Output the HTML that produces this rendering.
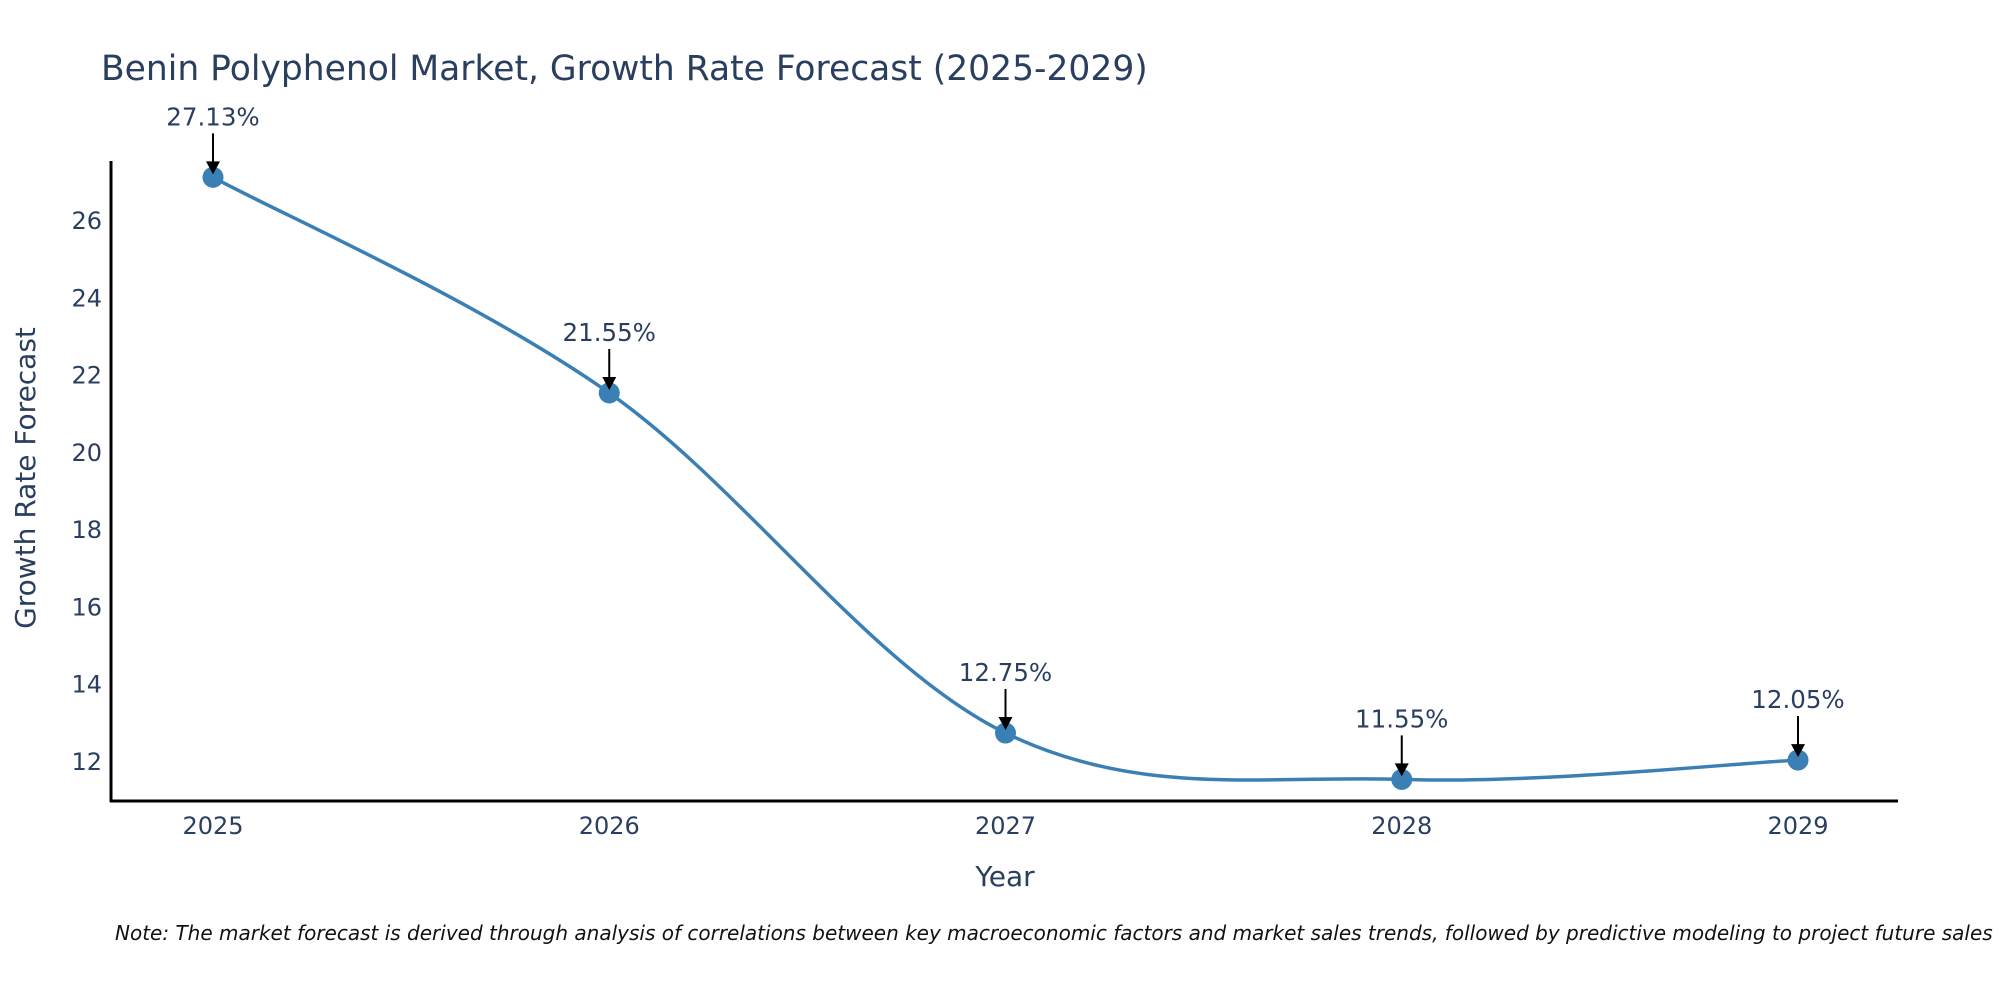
<!DOCTYPE html>
<html><head><meta charset="utf-8"><style>
body{margin:0;background:#fff}
svg text{font-family:"DejaVu Sans","Liberation Sans",sans-serif;fill:#2a3f5f}
</style></head><body>
<svg id="chart" width="2000" height="1000" xmlns="http://www.w3.org/2000/svg">
<text x="101" y="80" font-size="34.5">Benin Polyphenol Market, Growth Rate Forecast (2025-2029)</text>
<g id="plot"></g>
<text x="1005" y="886" font-size="28" text-anchor="middle">Year</text>
<text transform="translate(35,478) rotate(-90)" font-size="28" text-anchor="middle">Growth Rate Forecast</text>
<text x="115" y="940" font-size="20" font-style="italic" style="fill:#111">Note: The market forecast is derived through analysis of correlations between key macroeconomic factors and market sales trends, followed by predictive modeling to project future sales</text>
</svg>
<script>
const years = [2025, 2026, 2027, 2028, 2029];
const rates = [27.13, 21.55, 12.75, 11.55, 12.05];
const yTicks = [12, 14, 16, 18, 20, 22, 24, 26];
const NS = 'http://www.w3.org/2000/svg';
const g = document.getElementById('plot');
const X0 = 111, X1 = 1898, Y0 = 161, Y1 = 801;
const xs = v => 213 + (v - 2025) * (1798 - 213) / 4;
const ys = v => 762 - (v - 12) * (762 - 221) / 14;
function mk(tag, attrs) { const e = document.createElementNS(NS, tag); for (const k in attrs) e.setAttribute(k, attrs[k]); g.appendChild(e); return e; }
let e;
e = mk('line', {x1: X0, y1: Y0, x2: X0, y2: Y1 + 1, stroke: '#000', 'stroke-width': 3});


e = mk('line', {x1: X0 - 1, y1: Y1, x2: X1, y2: Y1, stroke: '#000', 'stroke-width': 3});


yTicks.forEach(t => {
  const el = mk('text', {x: 102, y: ys(t) + 8, 'font-size': 24, 'text-anchor': 'end'});
  el.textContent = t;
  
  
});
years.forEach(yr => {
  const el = mk('text', {x: xs(yr), y: 834, 'font-size': 24, 'text-anchor': 'middle'});
  el.textContent = yr;
  
  
});
const P = years.map((yr, i) => [xs(yr), ys(rates[i])]);
let d = 'M' + P[0][0] + ',' + P[0][1];
const s = 0.17;
for (let i = 0; i < P.length - 1; i++) {
  const p0 = P[Math.max(i - 1, 0)], p1 = P[i], p2 = P[i + 1], p3 = P[Math.min(i + 2, P.length - 1)];
  const c1 = [p1[0] + (p2[0] - p0[0]) * s, p1[1] + (p2[1] - p0[1]) * s];
  const c2 = [p2[0] - (p3[0] - p1[0]) * s, p2[1] - (p3[1] - p1[1]) * s];
  d += ' C' + c1 + ' ' + c2 + ' ' + p2;
}
e = mk('path', {d: d, fill: 'none', stroke: '#3b80b5', 'stroke-width': 3.5});


P.forEach((p, i) => {
  const c = mk('circle', {cx: p[0], cy: p[1], r: 10.5, fill: '#3b80b5'});
  
  
  const l = mk('line', {x1: p[0], y1: p[1] - 44, x2: p[0], y2: p[1] - 12, stroke: '#000', 'stroke-width': 2});
  
  
  const h = mk('path', {d: `M${p[0]-7},${p[1]-16} L${p[0]+7},${p[1]-16} L${p[0]},${p[1]-3} Z`, fill: '#000'});
  
  
  const t = mk('text', {x: p[0], y: p[1] - 52, 'font-size': 24.5, 'text-anchor': 'middle'});
  t.textContent = rates[i].toFixed(2) + '%';
  
  
});
</script>
</body></html>
